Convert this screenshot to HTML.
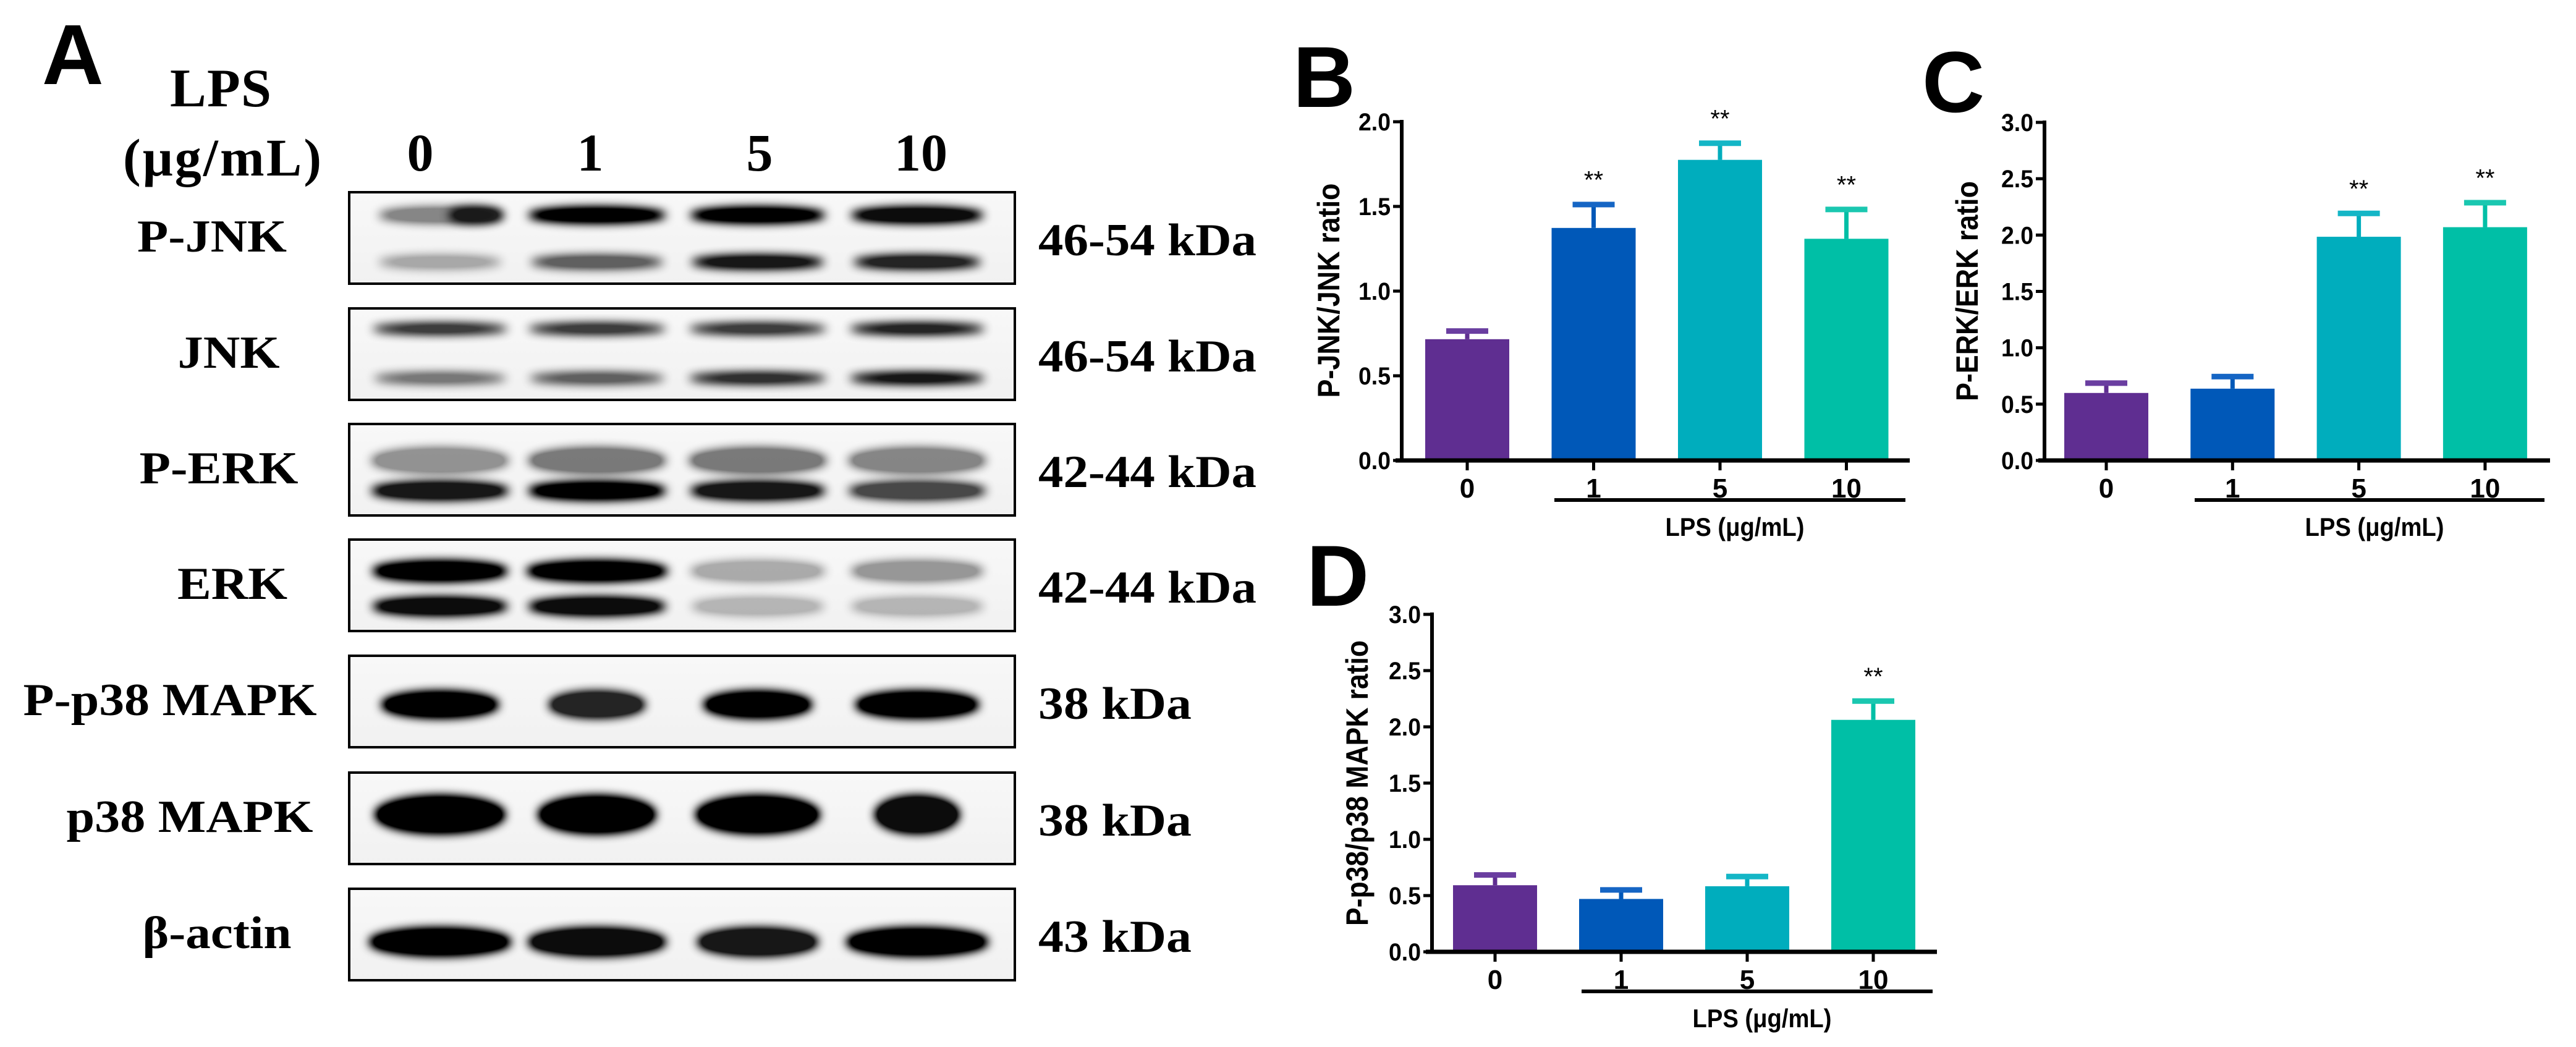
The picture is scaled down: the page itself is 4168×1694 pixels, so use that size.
<!DOCTYPE html>
<html><head><meta charset="utf-8">
<style>
html,body{margin:0;padding:0;background:#fff;}
svg{display:block;}
.ser{font-family:"Liberation Serif",serif;font-weight:bold;}
.san{font-family:"Liberation Sans",sans-serif;}
</style></head>
<body>
<svg id="fig" width="4168" height="1694" viewBox="0 0 4168 1694" xmlns="http://www.w3.org/2000/svg">
<defs>
<filter id="blur" x="-30%" y="-100%" width="160%" height="300%"><feGaussianBlur stdDeviation="8"/><feComponentTransfer><feFuncA type="linear" slope="1.7"/></feComponentTransfer></filter>
<linearGradient id="bg" x1="0" y1="0" x2="0" y2="1"><stop offset="0" stop-color="#f8f8f8"/><stop offset="1" stop-color="#f1f1f1"/></linearGradient>
</defs>
<g id="panelA">
<text class="san" x="68" y="136" font-size="138" font-weight="bold">A</text>
<text class="ser" x="275" y="172" font-size="88" textLength="164">LPS</text>
<text class="ser" x="199" y="284" font-size="86" textLength="321">(μg/mL)</text>
<g id="lanes"></g>
<g id="blots"></g>
</g>
<g id="charts"></g>
</svg>
<script>
// ---- chart data ----
const categories = ["0", "1", "5", "10"];
const bValues = [0.716, 1.373, 1.775, 1.309];
const bErrors = [0.05, 0.14, 0.10, 0.175];
const cValues = [0.599, 0.637, 1.985, 2.07];
const cErrors = [0.09, 0.11, 0.21, 0.22];
const dValues = [0.592, 0.47, 0.583, 2.062];
const dErrors = [0.094, 0.083, 0.089, 0.17];
const sigB = ["", "**", "**", "**"];
const sigC = ["", "", "**", "**"];
const sigD = ["", "", "", "**"];
const yTicksB = ["0.0", "0.5", "1.0", "1.5", "2.0"];
const yTicksCD = ["0.0", "0.5", "1.0", "1.5", "2.0", "2.5", "3.0"];
const barColors = ["#5f2e91", "#0058b8", "#00adbd", "#00bfa6"];
const capColors = ["#6a3ea0", "#1565c4", "#14b6c6", "#1ac7b0"];

// ---- blot data ----
const laneLabels = ["0", "1", "5", "10"];
const blotNames = ["P-JNK", "JNK", "P-ERK", "ERK", "P-p38 MAPK", "p38 MAPK", "β-actin"];
const blotSizes = ["46-54 kDa", "46-54 kDa", "42-44 kDa", "42-44 kDa", "38 kDa", "38 kDa", "43 kDa"];

const NS = "http://www.w3.org/2000/svg";
function mk(tag, attrs, parent){
  const e = document.createElementNS(NS, tag);
  for (const k in attrs) e.setAttribute(k, attrs[k]);
  parent.appendChild(e);
  return e;
}

// ---------- Western blot ----------
const lanesG = document.getElementById('lanes');
const laneX = [680, 955, 1229, 1490];
laneLabels.forEach((l, i) => {
  const t = mk('text', {x: laneX[i], y: 276, 'font-size': 86, 'text-anchor': 'middle', class: 'ser'}, lanesG);
  
  
  t.textContent = l;
});
const boxTops = [311, 499, 686, 873, 1061, 1250, 1438];
const boxH = 148, boxX = 565, boxW = 1077;
const nameCx = [343, 370, 354, 376, 275, 307, 351];
const nameW = [242, 165, 257, 178, 475, 399, 241];
const bandX = [712, 966, 1226, 1484];
// bands: [offsetY, ry, opacities per lane, half-widths per lane, x-shift per lane]
const bands = [
  [[37, 12, [0.45, 1, 1, 0.95], [100, 112, 110, 108], [0, 0, 0, 0]], [113, 10, [0.3, 0.6, 0.9, 0.85], [100, 108, 108, 104], [0, 0, 0, 0]]],
  [[33, 8, [0.75, 0.75, 0.75, 0.85], [110, 112, 112, 110], [0,0,0,0]], [113, 8, [0.5, 0.6, 0.8, 0.9], [108, 110, 112, 110], [0,0,0,0]]],
  [[59, 20, [0.4, 0.5, 0.5, 0.45], [112, 112, 112, 112], [0,0,0,0]], [108, 14, [0.9, 1, 0.9, 0.7], [112, 112, 110, 112], [0,0,0,0]]],
  [[51, 16, [1, 1, 0.3, 0.38], [110, 115, 110, 108], [0,0,0,0]], [108, 14, [0.95, 0.95, 0.25, 0.25], [110, 112, 108, 108], [0,0,0,0]]],
  [[79, 21, [1, 0.85, 1, 1], [95, 78, 88, 100], [0,0,0,0]]],
  [[68, 30, [1, 1, 1, 0.95], [105, 95, 100, 68], [0,0,0,0]]],
  [[86, 22, [1, 0.95, 0.9, 1], [115, 112, 98, 115], [0,0,0,0]]]
];
const blotsG = document.getElementById('blots');
blotNames.forEach((n, r) => {
  const g = mk('g', {}, blotsG);
  
  
  const y0 = boxTops[r];
  const bgR = mk('rect', {x: boxX, y: y0, width: boxW, height: boxH, fill: 'url(#bg)'}, g);
  
  
  bands[r].forEach(b => {
    bandX.forEach((cx, i) => {
      const e = mk('ellipse', {cx: cx + b[4][i], cy: y0 + b[0], rx: b[3][i], ry: b[1], fill: '#000', opacity: b[2][i], filter: 'url(#blur)'}, g);
      
      
    });
  });
  // P-JNK lane 0 upper band is darker on the right
  if (r === 0) {
    const e = mk('ellipse', {cx: 770, cy: y0 + 37, rx: 45, ry: 12, fill: '#000', opacity: 0.8, filter: 'url(#blur)'}, g);
    
    
  }
  const br = mk('rect', {x: boxX, y: y0, width: boxW, height: boxH, fill: 'none', stroke: '#000', 'stroke-width': 4}, g);
  
  
  const t = mk('text', {x: nameCx[r], y: y0 + 96, 'font-size': 74, 'text-anchor': 'middle', class: 'ser', textLength: nameW[r], lengthAdjust: 'spacingAndGlyphs'}, g);
  
  
  t.textContent = n;
  const s = blotSizes[r];
  const t2 = mk('text', {x: 1680, y: y0 + 102, 'font-size': 74, class: 'ser', textLength: s.length > 7 ? 353 : 248, lengthAdjust: 'spacingAndGlyphs'}, g);
  
  
  t2.textContent = s;
});

// ---------- Bar charts ----------
const chartsG = document.getElementById('charts');
function barChart(cfg){
  const g = mk('g', {}, chartsG);
  
  
  const yScale = v => cfg.y0 - (v / cfg.ymax) * (cfg.y0 - cfg.ytop);
  const xScale = i => cfg.x1 + i * cfg.step;
  const L = mk('text', {x: cfg.lx, y: cfg.ly, 'font-size': 140, 'font-weight': 'bold', class: 'san'}, g);
  
  
  L.textContent = cfg.letter;
  cfg.values.forEach((v, i) => {
    const cx = xScale(i), top = yScale(v), et = yScale(v + cfg.errors[i]);
    const r = mk('rect', {x: cx - 68, y: top, width: 136, height: cfg.y0 - top, fill: barColors[i]}, g);
    
    
    const l = mk('line', {x1: cx, x2: cx, y1: top, y2: et, stroke: barColors[i], 'stroke-width': 7}, g);
    
    
    const c = mk('rect', {x: cx - 34, y: et - 4, width: 68, height: 9, fill: capColors[i]}, g);
    
    
    if (cfg.sig[i]) {
      const s = mk('text', {x: cx, y: et - 26, 'font-size': 40, 'text-anchor': 'middle', class: 'san'}, g);
      
      
      s.textContent = cfg.sig[i];
    }
  });
  const ya = mk('line', {x1: cfg.ax, x2: cfg.ax, y1: cfg.ytop - 3, y2: cfg.y0 + 3, stroke: '#000', 'stroke-width': 6}, g);
  
  
  cfg.ticks.forEach(tk => {
    const y = yScale(parseFloat(tk));
    const tl = mk('line', {x1: cfg.ax - 14, x2: cfg.ax, y1: y, y2: y, stroke: '#000', 'stroke-width': 5}, g);
    
    
    const tt = mk('text', {x: cfg.ax - 18, y: y + 14, 'font-size': 40, 'font-weight': 'bold', 'text-anchor': 'end', class: 'san', textLength: 52, lengthAdjust: 'spacingAndGlyphs'}, g);
    
    
    tt.textContent = tk;
  });
  const xa = mk('line', {x1: cfg.ax - 10, x2: cfg.xend, y1: cfg.y0, y2: cfg.y0, stroke: '#000', 'stroke-width': 7}, g);
  
  
  categories.forEach((c, i) => {
    const cx = xScale(i);
    const tl = mk('line', {x1: cx, x2: cx, y1: cfg.y0, y2: cfg.y0 + 16, stroke: '#000', 'stroke-width': 5}, g);
    
    
    const tt = mk('text', {x: cx, y: cfg.y0 + 60, 'font-size': 44, 'font-weight': 'bold', 'text-anchor': 'middle', class: 'san'}, g);
    
    
    tt.textContent = c;
  });
  const ul = mk('line', {x1: cfg.ulx1, x2: cfg.ulx2, y1: cfg.y0 + 64, y2: cfg.y0 + 64, stroke: '#000', 'stroke-width': 6}, g);
  
  
  const xl = mk('text', {x: (cfg.ulx1 + cfg.ulx2) / 2 + 8, y: cfg.y0 + 122, 'font-size': 42, 'font-weight': 'bold', 'text-anchor': 'middle', class: 'san', textLength: 225, lengthAdjust: 'spacingAndGlyphs'}, g);
  
  
  xl.textContent = 'LPS (μg/mL)';
  const yl = mk('text', {x: 0, y: 0, 'font-size': 50, 'font-weight': 'bold', 'text-anchor': 'middle', class: 'san', textLength: cfg.ylen, lengthAdjust: 'spacingAndGlyphs', transform: 'translate(' + cfg.ylx + ',' + cfg.yly + ') rotate(-90)'}, g);
  
  
  yl.textContent = cfg.ytitle;
}
barChart({name: 'chart-b-pjnk', letter: 'B', lx: 2092, ly: 173, values: bValues, errors: bErrors, sig: sigB, ticks: yTicksB, ymax: 2,
  y0: 745, ytop: 197, ax: 2268, x1: 2374, step: 204.5, xend: 3090, ulx1: 2515, ulx2: 3083, ytitle: 'P-JNK/JNK ratio', ylen: 347, ylx: 2167, yly: 470});
barChart({name: 'chart-c-perk', letter: 'C', lx: 3110, ly: 181, values: cValues, errors: cErrors, sig: sigC, ticks: yTicksCD, ymax: 3,
  y0: 745, ytop: 198, ax: 3308, x1: 3408, step: 204.3, xend: 4126, ulx1: 3551, ulx2: 4117, ytitle: 'P-ERK/ERK ratio', ylen: 356, ylx: 3200, yly: 471});
barChart({name: 'chart-d-pp38', letter: 'D', lx: 2114, ly: 980, values: dValues, errors: dErrors, sig: sigD, ticks: yTicksCD, ymax: 3,
  y0: 1540, ytop: 994, ax: 2317, x1: 2419, step: 204, xend: 3134, ulx1: 2559, ulx2: 3127, ytitle: 'P-p38/p38 MAPK ratio', ylen: 462, ylx: 2213, yly: 1267});
</script>
</body></html>
